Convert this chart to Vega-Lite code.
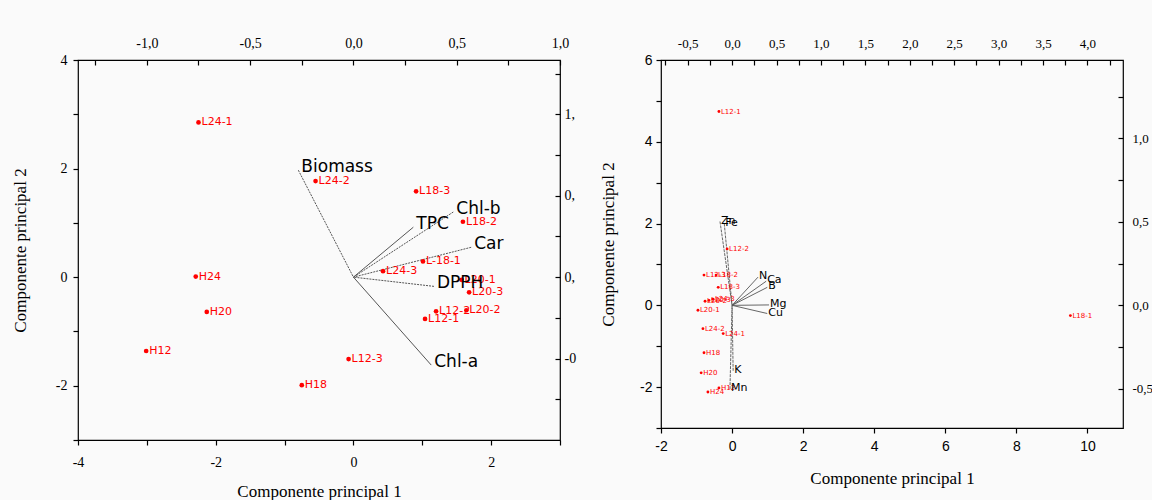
{
  "$schema": "https://vega.github.io/schema/vega-lite/v6.json",
  "background": "#fafafa",
  "padding": {"left": 10, "top": 35, "right": 0, "bottom": 0},
  "config": {
    "view": {"stroke": "black", "strokeWidth": 1.2},
    "axis": {"domain": false, "grid": false, "tickColor": "black", "labelColor": "black", "titleColor": "black", "titleFontWeight": "normal", "labelFont": "Liberation Serif", "titleFont": "Liberation Serif", "labelFontSize": 14, "titleFontSize": 17, "tickWidth": 1.2, "labelOverlap": false, "labelBound": false, "labelFlush": false}
  },
  "spacing": 21,
  "datasets": {
    "ptsA": [
      {"name": "L24-1", "x": -2.25, "y": 2.85},
      {"name": "L24-2", "x": -0.55, "y": 1.77},
      {"name": "L18-3", "x": 0.91, "y": 1.58},
      {"name": "L18-2", "x": 1.59, "y": 1.02},
      {"name": "L-18-1", "x": 1.01, "y": 0.29},
      {"name": "L24-3", "x": 0.43, "y": 0.11},
      {"name": "L20-1", "x": 1.57, "y": -0.05},
      {"name": "L20-3", "x": 1.68, "y": -0.28},
      {"name": "L12-2", "x": 1.2, "y": -0.63},
      {"name": "L20-2", "x": 1.64, "y": -0.61},
      {"name": "L12-1", "x": 1.04, "y": -0.77},
      {"name": "H24", "x": -2.29, "y": 0.01},
      {"name": "H20", "x": -2.13, "y": -0.64},
      {"name": "H12", "x": -3.01, "y": -1.36},
      {"name": "L12-3", "x": -0.07, "y": -1.51},
      {"name": "H18", "x": -0.75, "y": -1.99}
    ],
    "vecA": [
      {"name": "Biomass", "x": -0.8, "y": 1.97},
      {"name": "TPC", "x": 0.87, "y": 0.92},
      {"name": "Chl-b", "x": 1.45, "y": 1.2},
      {"name": "Car", "x": 1.71, "y": 0.55},
      {"name": "DPPH", "x": 1.17, "y": -0.17},
      {"name": "Chl-a", "x": 1.13, "y": -1.62}
    ],
    "ptsB": [
      {"name": "L12-1", "x": -0.37, "y": 4.74},
      {"name": "L12-2", "x": -0.14, "y": 1.38},
      {"name": "L12-3", "x": -0.79, "y": 0.74},
      {"name": "L18-2", "x": -0.45, "y": 0.74},
      {"name": "L18-3", "x": -0.39, "y": 0.44},
      {"name": "L20-2", "x": -0.76, "y": 0.1},
      {"name": "L20-3", "x": -0.65, "y": 0.12},
      {"name": "L24-3", "x": -0.54, "y": 0.15},
      {"name": "L20-1", "x": -0.96, "y": -0.12},
      {"name": "L24-2", "x": -0.82, "y": -0.57},
      {"name": "L24-1", "x": -0.25, "y": -0.69},
      {"name": "H18", "x": -0.79, "y": -1.16},
      {"name": "H20", "x": -0.87, "y": -1.65},
      {"name": "H12", "x": -0.37, "y": -2.02},
      {"name": "H24", "x": -0.68, "y": -2.12},
      {"name": "L18-1", "x": 9.52, "y": -0.25}
    ],
    "vecB": [
      {"name": "Zn", "x": -0.34, "y": 2.05},
      {"name": "Fe", "x": -0.22, "y": 2.0},
      {"name": "N", "x": 0.73, "y": 0.69},
      {"name": "Ca", "x": 0.96, "y": 0.59},
      {"name": "B", "x": 0.99, "y": 0.44},
      {"name": "Mg", "x": 1.04, "y": 0.01},
      {"name": "Cu", "x": 0.99, "y": -0.2},
      {"name": "K", "x": 0.03, "y": -1.6},
      {"name": "Mn", "x": -0.06, "y": -2.05}
    ]
  },
  "hconcat": [
    {
      "width": 482,
      "height": 380,
      "layer": [
        {
          "layer": [
            {
              "mark": {"type": "rule", "color": "black", "strokeWidth": 2},
              "encoding": {
                "x": {"datum": 0, "type": "quantitative", "scale": {"domain": [-4, 3], "nice": false, "zero": false},
                  "axis": {"orient": "bottom", "title": "Componente principal 1", "values": [-4, -3, -2, -1, 0, 1, 2, 3], "labelExpr": "datum.value % 2 == 0 ? replace(format(datum.value, 'd'), '\u2212', '-') : ''", "tickSize": 5, "labelPadding": 10, "titlePadding": 14}}
              }
            },
            {
              "mark": {"type": "rule", "color": "black", "strokeWidth": 2},
              "encoding": {
                "y": {"datum": 0, "type": "quantitative", "scale": {"domain": [-3, 4], "nice": false, "zero": false},
                  "axis": {"orient": "left", "title": "Componente principal 2", "values": [-3, -2, -1, 0, 1, 2, 3, 4], "labelExpr": "datum.value % 2 == 0 ? replace(format(datum.value, 'd'), '\u2212', '-') : ''", "tickSize": 5, "labelPadding": 6, "titlePadding": 26}}
              }
            },
            {
              "data": {"name": "vecA"},
              "transform": [{"filter": {"field": "name", "oneOf": ["TPC", "Chl-a"]}}],
              "mark": {"type": "rule", "color": "#555555", "strokeWidth": 1},
              "encoding": {"x": {"field": "x", "type": "quantitative"}, "y": {"field": "y", "type": "quantitative"}, "x2": {"datum": 0}, "y2": {"datum": 0}}
            },
            {
              "data": {"name": "vecA"},
              "transform": [{"filter": {"field": "name", "oneOf": ["Biomass", "Chl-b", "Car", "DPPH"]}}],
              "mark": {"type": "rule", "color": "#555555", "strokeWidth": 1, "strokeDash": [2, 1]},
              "encoding": {"x": {"field": "x", "type": "quantitative"}, "y": {"field": "y", "type": "quantitative"}, "x2": {"datum": 0}, "y2": {"datum": 0}}
            },
            {
              "data": {"name": "ptsA"},
              "mark": {"type": "point", "filled": true, "color": "#ff0000", "size": 22, "opacity": 1},
              "encoding": {"x": {"field": "x", "type": "quantitative"}, "y": {"field": "y", "type": "quantitative"}}
            },
            {
              "data": {"name": "ptsA"},
              "mark": {"type": "text", "color": "#ff0000", "font": "DejaVu Sans", "fontSize": 11, "align": "left", "baseline": "middle", "dx": 3},
              "encoding": {"x": {"field": "x", "type": "quantitative"}, "y": {"field": "y", "type": "quantitative"}, "text": {"field": "name"}}
            },
            {
              "data": {"name": "vecA"},
              "mark": {"type": "text", "color": "black", "font": "DejaVu Sans", "fontSize": 17, "align": "left", "baseline": "middle", "dx": 3, "dy": -3},
              "encoding": {"x": {"field": "x", "type": "quantitative"}, "y": {"field": "y", "type": "quantitative"}, "text": {"field": "name"}}
            },
            {
              "mark": {"type": "text", "text": "A", "font": "Liberation Serif", "fontSize": 32, "color": "black", "align": "center", "baseline": "middle"},
              "encoding": {"x": {"datum": -3.68}, "y": {"datum": 3.63}}
            }
          ]
        },
        {
          "mark": {"type": "point", "opacity": 0},
          "encoding": {
            "x": {"datum": 0, "type": "quantitative", "scale": {"domain": [-1.33333, 1], "nice": false, "zero": false},
              "axis": {"orient": "top", "title": null, "values": [-1.25, -1, -0.75, -0.5, -0.25, 0, 0.25, 0.5, 0.75, 1], "labelExpr": "abs(datum.value*2 - round(datum.value*2)) < 0.001 ? replace(replace(format(datum.value, '.1f'), '.', ','), '\u2212', '-') : ''", "tickSize": -5, "labelPadding": 15}},
            "y": {"datum": 0, "type": "quantitative", "scale": {"domain": [-1, 1.33333], "nice": false, "zero": false},
              "axis": {"orient": "right", "title": null, "values": [-0.75, -0.5, -0.25, 0, 0.25, 0.5, 0.75, 1, 1.25], "labelExpr": "abs(datum.value*2 - round(datum.value*2)) < 0.001 ? substring(replace(replace(format(datum.value, '.1f'), '.', ','), '\u2212', '-'), 0, 2) : ''", "tickSize": -5, "labelPadding": 9}}
          }
        }
      ],
      "resolve": {"scale": {"x": "independent", "y": "independent"}, "axis": {"x": "independent", "y": "independent"}}
    },
    {
      "width": 462,
      "height": 368,
      "layer": [
        {
          "layer": [
            {
              "mark": {"type": "rule", "color": "black", "strokeWidth": 1.8},
              "encoding": {
                "x": {"datum": 0, "type": "quantitative", "scale": {"domain": [-2, 11], "nice": false, "zero": false},
                  "axis": {"orient": "bottom", "title": "Componente principal 1", "values": [-2, -1, 0, 1, 2, 3, 4, 5, 6, 7, 8, 9, 10, 11], "labelExpr": "datum.value % 2 == 0 && datum.value <= 10 ? replace(format(datum.value, 'd'), '\u2212', '-') : ''", "labelFont": "Liberation Sans", "labelFontSize": 14, "tickSize": 5, "labelPadding": 6, "titlePadding": 17}}
              }
            },
            {
              "mark": {"type": "rule", "color": "black", "strokeWidth": 1.8},
              "encoding": {
                "y": {"datum": 0, "type": "quantitative", "scale": {"domain": [-3, 6], "nice": false, "zero": false},
                  "axis": {"orient": "left", "title": "Componente principal 2", "values": [-3, -2, -1, 0, 1, 2, 3, 4, 5, 6], "labelExpr": "datum.value % 2 == 0 ? replace(format(datum.value, 'd'), '\u2212', '-') : ''", "labelFont": "Liberation Sans", "labelFontSize": 14, "tickSize": 5, "labelPadding": 4, "titlePadding": 22}}
              }
            },
            {
              "data": {"name": "vecB"},
              "transform": [{"filter": {"field": "name", "oneOf": ["N", "Ca", "B", "Mg", "Cu"]}}],
              "mark": {"type": "rule", "color": "#555555", "strokeWidth": 0.9},
              "encoding": {"x": {"field": "x", "type": "quantitative"}, "y": {"field": "y", "type": "quantitative"}, "x2": {"datum": 0}, "y2": {"datum": 0}}
            },
            {
              "data": {"name": "vecB"},
              "transform": [{"filter": {"field": "name", "oneOf": ["Zn", "Fe", "K", "Mn"]}}],
              "mark": {"type": "rule", "color": "#555555", "strokeWidth": 0.9, "strokeDash": [3, 1]},
              "encoding": {"x": {"field": "x", "type": "quantitative"}, "y": {"field": "y", "type": "quantitative"}, "x2": {"datum": 0}, "y2": {"datum": 0}}
            },
            {
              "data": {"name": "ptsB"},
              "mark": {"type": "point", "filled": true, "color": "#ff0000", "size": 8, "opacity": 1},
              "encoding": {"x": {"field": "x", "type": "quantitative"}, "y": {"field": "y", "type": "quantitative"}}
            },
            {
              "data": {"name": "ptsB"},
              "mark": {"type": "text", "color": "#ff0000", "font": "DejaVu Sans", "fontSize": 7, "align": "left", "baseline": "middle", "dx": 2},
              "encoding": {"x": {"field": "x", "type": "quantitative"}, "y": {"field": "y", "type": "quantitative"}, "text": {"field": "name"}}
            },
            {
              "data": {"name": "vecB"},
              "mark": {"type": "text", "color": "black", "font": "DejaVu Sans", "fontSize": 11, "align": "left", "baseline": "middle", "dx": 1, "dy": -1},
              "encoding": {"x": {"field": "x", "type": "quantitative"}, "y": {"field": "y", "type": "quantitative"}, "text": {"field": "name"}}
            },
            {
              "mark": {"type": "text", "text": "B", "font": "Liberation Serif", "fontSize": 32, "color": "black", "align": "center", "baseline": "middle"},
              "encoding": {"x": {"datum": 9.97}, "y": {"datum": 5.41}}
            }
          ]
        },
        {
          "mark": {"type": "point", "opacity": 0},
          "encoding": {
            "x": {"datum": 0, "type": "quantitative", "scale": {"domain": [-0.8, 4.4], "nice": false, "zero": false},
              "axis": {"orient": "top", "title": null, "values": [-0.75, -0.5, -0.25, 0, 0.25, 0.5, 0.75, 1, 1.25, 1.5, 1.75, 2, 2.25, 2.5, 2.75, 3, 3.25, 3.5, 3.75, 4, 4.25], "labelExpr": "abs(datum.value*2 - round(datum.value*2)) < 0.001 ? replace(replace(format(datum.value, '.1f'), '.', ','), '\u2212', '-') : ''", "labelFontSize": 13, "tickSize": -5, "labelPadding": 15}},
            "y": {"datum": 0, "type": "quantitative", "scale": {"domain": [-0.735, 1.47], "nice": false, "zero": false},
              "axis": {"orient": "right", "title": null, "values": [-0.5, -0.25, 0, 0.25, 0.5, 0.75, 1, 1.25], "labelExpr": "abs(datum.value*2 - round(datum.value*2)) < 0.001 ? replace(replace(format(datum.value, '.1f'), '.', ','), '\u2212', '-') : ''", "labelFontSize": 13, "tickSize": -5, "labelPadding": 14}}
          }
        }
      ],
      "resolve": {"scale": {"x": "independent", "y": "independent"}, "axis": {"x": "independent", "y": "independent"}}
    }
  ]
}
